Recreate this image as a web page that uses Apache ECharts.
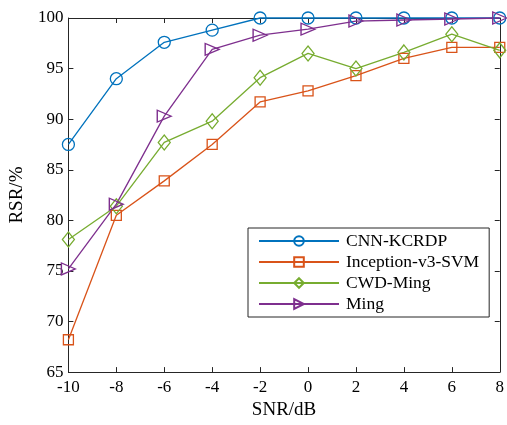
<!DOCTYPE html>
<html>
<head>
<meta charset="utf-8">
<script src="https://cdn.jsdelivr.net/npm/echarts@6/dist/echarts.min.js"></script>
<style>
    html, body { margin: 0; padding: 0; background: #fff; }
    #chart { width: 507px; height: 425px; }
</style>
</head>
<body>
<div id="chart"></div>
<script>
    // 数据
    var snr = [-10, -8, -6, -4, -2, 0, 2, 4, 6, 8];
    var cnnKcrdp = [87.5, 94.0, 97.6, 98.8, 100, 100, 100, 100, 100, 100];
    var inceptionSvm = [68.2, 80.5, 83.9, 87.5, 91.7, 92.8, 94.3, 96.0, 97.1, 97.1];
    var cwdMing = [78.1, 81.4, 87.7, 89.8, 94.1, 96.5, 95.0, 96.6, 98.4, 96.8];
    var ming = [75.2, 81.6, 90.3, 96.9, 98.3, 98.9, 99.7, 99.8, 99.9, 100];

    var names = ['CNN-KCRDP', 'Inception-v3-SVM', 'CWD-Ming', 'Ming'];
    var colors = ['#0072BD', '#D95319', '#77AC30', '#7E2F8E'];
    var font = '"Liberation Serif", "Times New Roman", serif';

    function pairs(arr) {
        return snr.map(function(x, i) { return [x, arr[i]]; });
    }

    function makeSeries(name, data, color, symbol, size, rotate) {
        return {
            name: name,
            type: 'line',
            data: pairs(data),
            symbol: symbol,
            symbolSize: size,
            symbolRotate: rotate || 0,
            showAllSymbol: true,
            clip: false,
            lineStyle: { color: color, width: 1.3 },
            itemStyle: { color: 'rgba(255,255,255,0)', borderColor: color, borderWidth: 1.3 },
            emphasis: { disabled: true }
        };
    }

    var axisLine = { show: true, onZero: false, lineStyle: { color: '#262626', width: 1 } };
    var tick = { show: true, inside: true, length: 5, lineStyle: { color: '#262626' } };

    var chart = echarts.init(document.getElementById('chart'));

    chart.setOption({
        animation: false,
        backgroundColor: '#fff',
        grid: { left: 68, right: 5, top: 18, bottom: 52 },
        legend: {
            orient: 'vertical',
            left: 248,
            top: 228,
            backgroundColor: '#fff',
            borderColor: '#262626',
            borderWidth: 1,
            padding: [4, 10, 4, 10],
            itemWidth: 80,
            itemHeight: 12,
            itemGap: 3,
            symbolRotate: 'inherit',
            data: names,
            textStyle: { fontFamily: font, fontSize: 17.5, color: '#000', padding: [0, 0, 0, 2] }
        },
        xAxis: [{
            type: 'value',
            min: -10,
            max: 8,
            interval: 2,
            name: 'SNR/dB',
            nameLocation: 'middle',
            nameGap: 28,
            nameTextStyle: { fontFamily: font, fontSize: 19, color: '#000' },
            axisLine: axisLine,
            axisTick: tick,
            axisLabel: { fontFamily: font, fontSize: 17, color: '#000', margin: 7 },
            splitLine: { show: false }
        }, {
            type: 'value',
            position: 'top',
            min: -10,
            max: 8,
            interval: 2,
            axisLine: axisLine,
            axisTick: tick,
            axisLabel: { show: false },
            splitLine: { show: false }
        }],
        yAxis: [{
            type: 'value',
            min: 65,
            max: 100,
            interval: 5,
            name: 'RSR/%',
            nameLocation: 'middle',
            nameGap: 37,
            nameTextStyle: { fontFamily: font, fontSize: 19, color: '#000' },
            axisLine: axisLine,
            axisTick: tick,
            axisLabel: { fontFamily: font, fontSize: 17, color: '#000', margin: 5 },
            splitLine: { show: false }
        }, {
            type: 'value',
            position: 'right',
            min: 65,
            max: 100,
            interval: 5,
            axisLine: axisLine,
            axisTick: tick,
            axisLabel: { show: false },
            splitLine: { show: false }
        }],
        series: [
            makeSeries(names[0], cnnKcrdp, colors[0], 'circle', 12),
            makeSeries(names[1], inceptionSvm, colors[1], 'rect', 10),
            makeSeries(names[2], cwdMing, colors[2], 'diamond', [12, 15]),
            makeSeries(names[3], ming, colors[3], 'triangle', [12, 14], -90)
        ]
    });
</script>
</body>
</html>
